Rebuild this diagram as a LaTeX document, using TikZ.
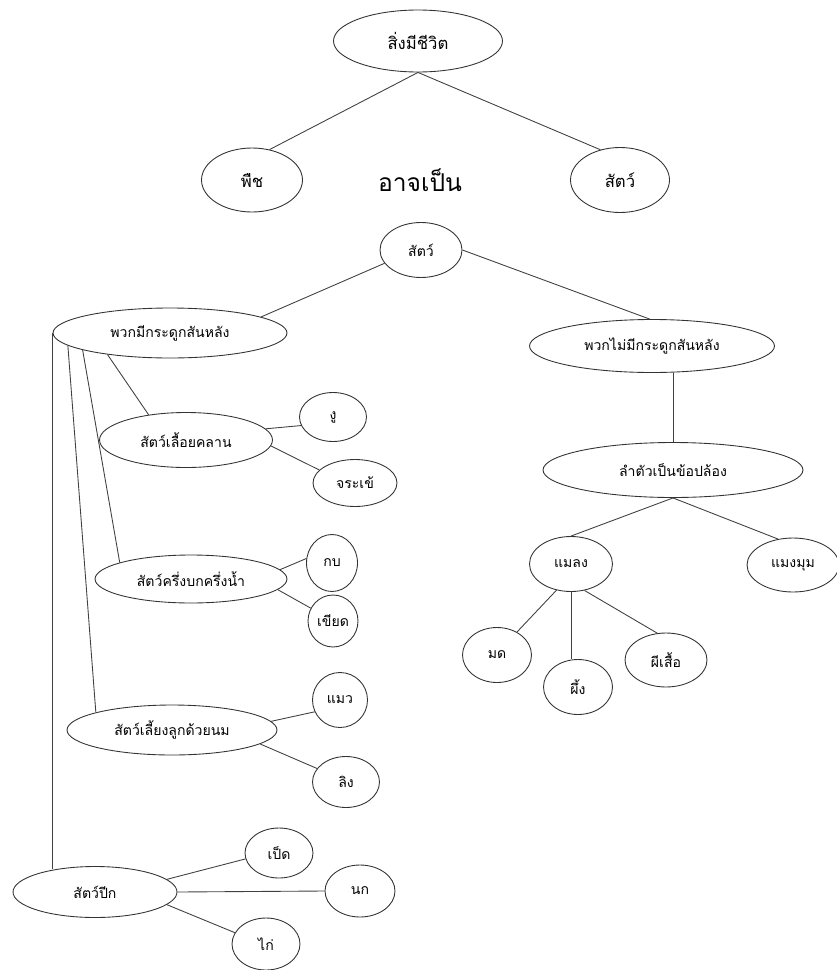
\documentclass[tikz,border=0pt]{standalone}
\usepackage{fontspec}
\usepackage{tikz}
\usetikzlibrary{shapes.geometric}
\newfontfamily\thaifont[Script=Thai]{Loma}

\tikzset{
  bubble/.style={draw=black!80, ellipse, inner sep=0pt, font=\thaifont\fontsize{8}{9}\selectfont},
  bigbubble/.style={bubble, font=\thaifont\fontsize{9.5}{11}\selectfont},
  branch/.style={draw=black!75, line width=0.5pt}
}

\begin{document}
\begin{tikzpicture}[x=0.02cm,y=-0.02cm,line width=0.5pt]
  \useasboundingbox (0,0) rectangle (836,970);

  %top: living things
  \node[bigbubble,minimum width=3.38cm,minimum height=1.24cm] (life) at (418,41) {สิ่งมีชีวิต};
  \node[bigbubble,minimum width=2.02cm,minimum height=1.28cm] (plant) at (252,180) {พืช};
  \node[bigbubble,minimum width=1.98cm,minimum height=1.3cm] (beast) at (620,180) {สัตว์};
  \node[font=\thaifont\fontsize{14}{16}\selectfont] (maybe) at (420,180) {อาจเป็น};
  \draw[branch] (life.south) -- (plant.60);
  \draw[branch] (life.south) -- (beast.123);

  %animal groups
  \node[bubble,minimum width=1.64cm,minimum height=1.1cm] (animal) at (421,250) {สัตว์};
  \node[bubble,minimum width=4.68cm,minimum height=1cm] (vert) at (170,333) {พวกมีกระดูกสันหลัง};
  \node[bubble,minimum width=4.9cm,minimum height=1.06cm] (invert) at (652,346) {พวกไม่มีกระดูกสันหลัง};
  \draw[branch] (animal.200) -- (vert.10);
  \draw[branch] (animal.east) -- (invert.95);

  %no backbone
  \node[bubble,minimum width=5.2cm,minimum height=1.1cm] (segm) at (673,470) {ลำตัวเป็นข้อปล้อง};
  \node[bubble,minimum width=1.66cm,minimum height=1.1cm] (insect) at (571,564) {แมลง};
  \node[bubble,minimum width=1.84cm,minimum height=1.08cm] (spider) at (793,565) {แมงมุม};
  \node[bubble,minimum width=1.38cm,minimum height=1.1cm] (ant) at (497,655) {มด};
  \node[bubble,minimum width=1.38cm,minimum height=1.1cm] (bee) at (578,687) {ผึ้ง};
  \node[bubble,minimum width=1.64cm,minimum height=1.08cm] (moth) at (666,660) {ผีเสื้อ};
  \draw[branch] (invert.south -| segm.north) -- (segm.north);
  \draw[branch] (segm.south) -- (insect.north);
  \draw[branch] (segm.south) -- (spider.120);
  \draw[branch] (insect.241) -- (ant.49);
  \draw[branch] (insect.south) -- (insect.south |- bee.north);
  \draw[branch] (insect.297) -- (moth.108);

  %backbone
  \node[bubble,minimum width=3.46cm,minimum height=1.1cm] (reptile) at (186,440) {สัตว์เลื้อยคลาน};
  \node[bubble,minimum width=1.34cm,minimum height=0.98cm] (snake) at (333,417) {งู};
  \node[bubble,minimum width=1.68cm,minimum height=0.94cm] (croc) at (355,483) {จระเข้};
  \node[bubble,minimum width=3.84cm,minimum height=0.96cm] (amph) at (191,579) {สัตว์ครึ่งบกครึ่งน้ำ};
  \node[bubble,minimum width=1.02cm,minimum height=1.14cm] (frog) at (332,563) {กบ};
  \node[bubble,minimum width=1cm,minimum height=1.04cm] (toad) at (333,621) {เขียด};
  \node[bubble,minimum width=4.2cm,minimum height=1cm] (mammal) at (172,730) {สัตว์เลี้ยงลูกด้วยนม};
  \node[bubble,minimum width=1.1cm,minimum height=1.1cm] (cat) at (340,700) {แมว};
  \node[bubble,minimum width=1.34cm,minimum height=1.02cm] (monkey) at (346,782) {ลิง};
  \node[bubble,minimum width=3.28cm,minimum height=1.02cm] (bird) at (95,892) {สัตว์ปีก};
  \node[bubble,minimum width=1.36cm,minimum height=1cm] (duck) at (279,853) {เป็ด};
  \node[bubble,minimum width=1.4cm,minimum height=1.04cm] (sparrow) at (360,891) {นก};
  \node[bubble,minimum width=1.36cm,minimum height=1.04cm] (hen) at (266,944) {ไก่};

  \draw[branch] (vert.west) -- (vert.west |- bird.151);
  \draw[branch] (vert.187) -- (mammal.167);
  \draw[branch] (vert.191) -- (amph.167);
  \draw[branch] (vert.199) -- (reptile.146);
  \draw[branch] (reptile.8) -- (snake.195);
  \draw[branch] (reptile.356) -- (croc.160);
  \draw[branch] (amph.6) -- (frog.170);
  \draw[branch] (amph.353) -- (toad.150);
  \draw[branch] (mammal.5) -- (cat.205);
  \draw[branch] (mammal.351) -- (monkey.155);
  \draw[branch] (bird.10) -- (duck.190);
  \draw[branch] (bird.east) -- (sparrow.west);
  \draw[branch] (bird.350) -- (hen.160);
\end{tikzpicture}
\end{document}
